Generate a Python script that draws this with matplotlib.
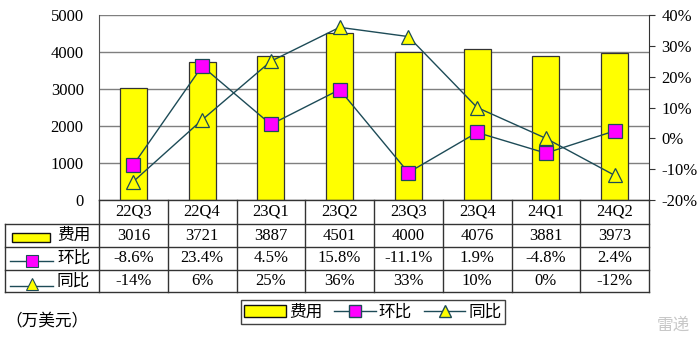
import matplotlib.pyplot as plt
from matplotlib.patches import Rectangle
from matplotlib.lines import Line2D

quarters = ['22Q3', '22Q4', '23Q1', '23Q2', '23Q3', '23Q4', '24Q1', '24Q2']
cost = [3016, 3721, 3887, 4501, 4000, 4076, 3881, 3973]
qoq = [-8.6, 23.4, 4.5, 15.8, -11.1, 1.9, -4.8, 2.4]
yoy = [-14, 6, 25, 36, 33, 10, 0, -12]
qoq_labels = ['-8.6%', '23.4%', '4.5%', '15.8%', '-11.1%', '1.9%', '-4.8%', '2.4%']
yoy_labels = ['-14%', '6%', '25%', '36%', '33%', '10%', '0%', '-12%']

NUM = ['Liberation Serif', 'Noto Sans CJK SC']
CJK = ['Noto Sans CJK SC', 'DejaVu Sans']
YEL = '#ffff00'
MAG = '#ff00ff'
LINE = '#1d4b57'
EDGE = '#333333'

W, H = 700, 343
fig = plt.figure(figsize=(W / 100, H / 100), dpi=100)


def px(x0, y0, x1, y1):
    # pixel box (top-left origin) -> figure fraction rect
    return [x0 / W, 1 - y1 / H, (x1 - x0) / W, (y1 - y0) / H]


# main chart
ax = fig.add_axes(px(99, 15, 649, 200))
x = list(range(len(quarters)))
ax.bar(x, cost, width=0.39, color=YEL, edgecolor=EDGE, linewidth=0.9, zorder=2)
ax.set_xlim(-0.5, len(quarters) - 0.5)
ax.set_ylim(0, 5000)
ax.set_yticks(range(0, 5001, 1000))
ax.set_xticks([])
ax.yaxis.grid(True, color='#7f7f7f', linewidth=1.0, zorder=0)
ax.set_axisbelow(True)
ax.tick_params(axis='y', length=0, pad=11, labelsize=12)
for lab in ax.get_yticklabels():
    lab.set_family(NUM)
for s in ['top', 'right', 'bottom']:
    ax.spines[s].set_visible(False)
ax.spines['left'].set_color('#555555')

ax2 = ax.twinx()
ax2.set_ylim(-20, 40)
ax2.set_yticks(range(-20, 41, 10))
ax2.set_yticklabels([f'{v}%' for v in range(-20, 41, 10)])
ax2.tick_params(axis='y', length=4, direction='out', color='#333333', labelsize=12, pad=5)
for lab in ax2.get_yticklabels():
    lab.set_family(NUM)
for s in ['top', 'left', 'bottom']:
    ax2.spines[s].set_visible(False)
ax2.spines['right'].set_color('#333333')
ax2.plot(x, qoq, color=LINE, linewidth=1.0, marker='s', markersize=10.5,
         markerfacecolor=MAG, markeredgecolor=LINE, markeredgewidth=0.9, zorder=4)
ax2.plot(x, yoy, color=LINE, linewidth=1.0, marker='^', markersize=10,
         markerfacecolor=YEL, markeredgecolor=LINE, markeredgewidth=0.9, zorder=4)

# data table below the chart
tab_left = 5
unit = 550 / len(quarters)
ta = fig.add_axes(px(tab_left, 200, 649, 292))
ta.set_xlim(-0.5 - (99 - tab_left) / unit, len(quarters) - 0.5)
ta.set_ylim(292, 200)
ta.axis('off')
rows = [200, 224, 247, 270, 292]
xl = ta.get_xlim()[0]
lc = '#333333'
for yv in rows[1:]:
    ta.plot([xl, 7.5], [yv, yv], color=lc, lw=1.0, clip_on=False)
ta.plot([-0.5, 7.5], [200, 200], color=lc, lw=1.0, clip_on=False)
for i in range(len(quarters) + 1):
    ta.plot([i - 0.5, i - 0.5], [200, 292], color=lc, lw=1.0, clip_on=False)
ta.plot([xl, xl], [224, 292], color=lc, lw=1.0, clip_on=False)

mids = [(rows[k] + rows[k + 1]) / 2 for k in range(4)]
for i, q in enumerate(quarters):
    ta.text(i, mids[0], q, ha='center', va='center', fontsize=12, family=NUM)
    ta.text(i, mids[1], str(cost[i]), ha='center', va='center', fontsize=12, family=NUM)
    ta.text(i, mids[2], qoq_labels[i], ha='center', va='center', fontsize=12, family=NUM)
    ta.text(i, mids[3], yoy_labels[i], ha='center', va='center', fontsize=12, family=NUM)

# row header keys
u = 1 / unit
ta.add_patch(Rectangle((xl + 7 * u, mids[1] - 3), 38 * u, 9, facecolor=YEL,
                       edgecolor='#111111', lw=1.0, clip_on=False))
ta.plot([xl + 5 * u, xl + 48 * u], [mids[2] + 2, mids[2] + 2], color=LINE, lw=1.0)
ta.plot([xl + 27 * u], [mids[2] + 2], marker='s', markersize=8, markerfacecolor=MAG,
        markeredgecolor=LINE, markeredgewidth=0.8)
ta.plot([xl + 5 * u, xl + 48 * u], [mids[3] + 5, mids[3] + 5], color=LINE, lw=1.0)
ta.plot([xl + 27 * u], [mids[3] + 3], marker='^', markersize=8, markerfacecolor=YEL,
        markeredgecolor=LINE, markeredgewidth=0.8)
for k, name in zip([1, 2, 3], ['费用', '环比', '同比']):
    ta.text(xl + 52 * u, mids[k], name, ha='left', va='center', fontsize=12, family=CJK)

# bottom legend
handles = [
    Rectangle((0, 0), 1, 1, facecolor=YEL, edgecolor='#111111', lw=1.0),
    Line2D([], [], color=LINE, lw=1.0, marker='s', markersize=8,
           markerfacecolor=MAG, markeredgecolor=LINE),
    Line2D([], [], color=LINE, lw=1.0, marker='^', markersize=8,
           markerfacecolor=YEL, markeredgecolor=LINE),
]
leg = fig.legend(handles, ['费用', '环比', '同比'], ncol=3, loc='center',
                 bbox_to_anchor=(373 / W, 1 - 312 / H), frameon=True, fancybox=False,
                 edgecolor='#111111', prop={'family': CJK, 'size': 12},
                 handlelength=2.5, handletextpad=0.2, columnspacing=0.7,
                 borderpad=0.2, borderaxespad=0)
leg.get_frame().set_linewidth(1.0)

fig.text(5 / W, 1 - 322 / H, '（万美元）', ha='left', va='center', fontsize=12, family=CJK)
fig.text(690 / W, 1 - 325 / H, '雷递', ha='right', va='center', fontsize=12,
         family=CJK, color='#c8c8c8')

fig.savefig('out.png', dpi=100)
